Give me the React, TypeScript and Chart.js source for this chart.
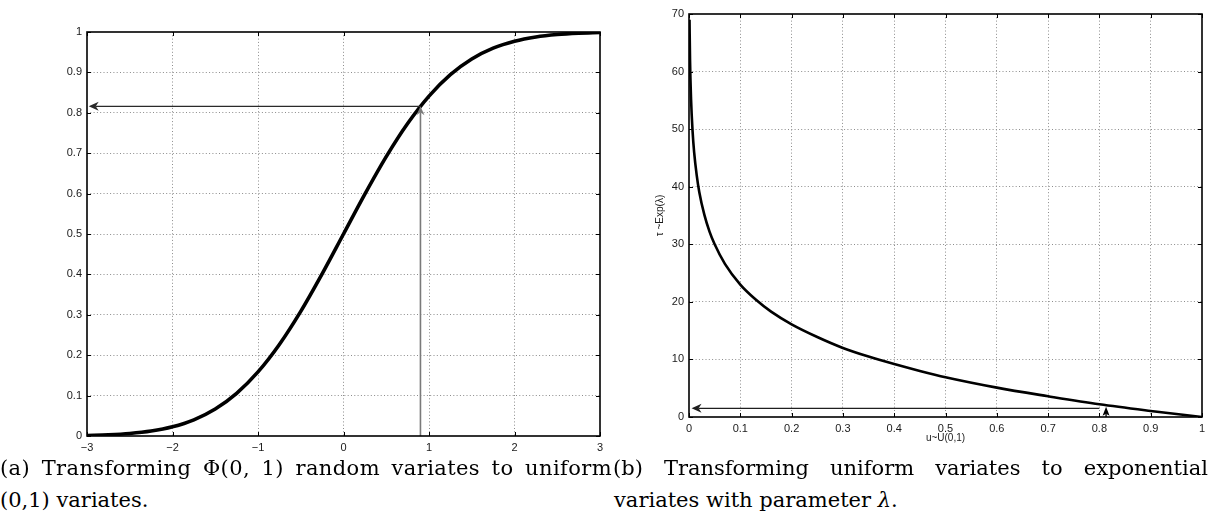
import React, { useEffect, useRef } from "react";
import { Chart, registerables } from "chart.js";
Chart.register(...registerables);

// ---------- Data: panel (a) standard normal CDF ----------
const A_X = [-3, -2.75, -2.5, -2.25, -2, -1.75, -1.5, -1.25, -1, -0.75, -0.5, -0.25, 0, 0.25, 0.5, 0.75, 1, 1.25, 1.5, 1.75, 2, 2.25, 2.5, 2.75, 3];
const A_Y = [0.0013, 0.003, 0.0062, 0.0122, 0.0228, 0.0401, 0.0668, 0.1056, 0.1587, 0.2266, 0.3085, 0.4013, 0.5, 0.5987, 0.6915, 0.7734, 0.8413, 0.8944, 0.9332, 0.9599, 0.9772, 0.9878, 0.9938, 0.997, 0.9987];
const A_XTICKS = [-3, -2, -1, 0, 1, 2, 3];
const A_XLABELS = ["\u22123", "\u22122", "\u22121", "0", "1", "2", "3"];
const A_YTICKS = [0, 0.1, 0.2, 0.3, 0.4, 0.5, 0.6, 0.7, 0.8, 0.9, 1];
const A_YLABELS = ["0", "0.1", "0.2", "0.3", "0.4", "0.5", "0.6", "0.7", "0.8", "0.9", "1"];
// arrows in data units: [x1, y1, x2, y2] (head at x2,y2)
const A_ARROW_H = [0.9, 0.816, -2.98, 0.816];
const A_ARROW_V = [0.9, 0, 0.9, 0.816];

// ---------- Data: panel (b) inverse exponential transform ----------
const B_U = [0.001, 0.002, 0.004, 0.007, 0.01, 0.015, 0.02, 0.03, 0.04, 0.05, 0.07, 0.1, 0.13, 0.16, 0.2, 0.25, 0.3, 0.35, 0.4, 0.45, 0.5, 0.6, 0.7, 0.8, 0.9, 1];
const B_TAU = [69, 62, 55.2, 49.6, 46, 42, 39.1, 35.1, 32.2, 30, 26.6, 23, 20.4, 18.3, 16.1, 13.9, 12, 10.5, 9.2, 8, 6.9, 5.1, 3.6, 2.2, 1.05, 0];
const B_XTICKS = [0, 0.1, 0.2, 0.3, 0.4, 0.5, 0.6, 0.7, 0.8, 0.9, 1];
const B_XLABELS = ["0", "0.1", "0.2", "0.3", "0.4", "0.5", "0.6", "0.7", "0.8", "0.9", "1"];
const B_YTICKS = [0, 10, 20, 30, 40, 50, 60, 70];
const B_YLABELS = ["0", "10", "20", "30", "40", "50", "60", "70"];
const B_XTITLE = "u~U(0,1)";
const B_YTITLE = "\u03c4 ~Exp(\u03bb)";
const B_ARROW_H = [0.8, 1.5, 0.005, 1.5];
const B_ARROW_V = [0.813, 0, 0.813, 1.8];

const CAP_A1 = "(a) Transforming \u03a6(0, 1) random variates to uniform";
const CAP_A2 = "(0,1) variates.";
const CAP_B1 = "(b) Transforming uniform variates to exponential";
const CAP_B2 = "variates with parameter ";

type ArrowStyle = { color: string; width: number; len: number; half: number; notch: number };

function drawArrow(ctx: CanvasRenderingContext2D, x1: number, y1: number, x2: number, y2: number, s: ArrowStyle) {
  const ang = Math.atan2(y2 - y1, x2 - x1);
  const bx = x2 - Math.cos(ang) * (s.len - s.notch);
  const by = y2 - Math.sin(ang) * (s.len - s.notch);
  ctx.save();
  ctx.strokeStyle = s.color;
  ctx.lineWidth = s.width;
  ctx.beginPath();
  ctx.moveTo(x1, y1);
  ctx.lineTo(bx, by);
  ctx.stroke();
  ctx.translate(x2, y2);
  ctx.rotate(ang);
  ctx.beginPath();
  ctx.moveTo(0, 0);
  ctx.lineTo(-s.len, -s.half);
  ctx.lineTo(-s.len + s.notch, 0);
  ctx.lineTo(-s.len, s.half);
  ctx.closePath();
  ctx.fillStyle = s.color;
  ctx.fill();
  ctx.restore();
}

function makeBoxPlugin(xTicks: number[], yTicks: number[], arrows: { a: number[]; s: ArrowStyle }[]) {
  return {
    id: "matlabBox",
    afterDatasetsDraw(chart: any) {
      const { ctx, chartArea: ca, scales } = chart;
      const xs = scales.x, ys = scales.y;
      ctx.save();
      ctx.strokeStyle = "#000";
      ctx.lineWidth = 1;
      const tl = 4;
      ctx.beginPath();
      xTicks.forEach((v) => {
        const px = Math.round(xs.getPixelForValue(v)) + 0.5;
        ctx.moveTo(px, ca.bottom);
        ctx.lineTo(px, ca.bottom - tl);
        ctx.moveTo(px, ca.top);
        ctx.lineTo(px, ca.top + tl);
      });
      yTicks.forEach((v) => {
        const py = Math.round(ys.getPixelForValue(v)) + 0.5;
        ctx.moveTo(ca.left, py);
        ctx.lineTo(ca.left + tl, py);
        ctx.moveTo(ca.right, py);
        ctx.lineTo(ca.right - tl, py);
      });
      ctx.stroke();
      arrows.forEach(({ a, s }) => {
        drawArrow(ctx, xs.getPixelForValue(a[0]), ys.getPixelForValue(a[1]), xs.getPixelForValue(a[2]), ys.getPixelForValue(a[3]), s);
      });
      ctx.strokeStyle = "#000";
      ctx.lineWidth = 1.6;
      ctx.strokeRect(ca.left, ca.top, ca.right - ca.left, ca.bottom - ca.top);
      ctx.restore();
    },
  };
}

const tickFont = { family: "'Liberation Sans', Roboto, Arial, sans-serif", size: 11 };

function axis(min: number, max: number, ticks: number[], labels: string[], fit: (s: any) => void, extra: any = {}) {
  return {
    type: "linear",
    min,
    max,
    afterBuildTicks: (s: any) => {
      s.ticks = ticks.map((v) => ({ value: v }));
    },
    afterFit: fit,
    grid: {
      drawTicks: false,
      lineWidth: 1,
      color: (c: any) => (c.tick && (c.tick.value === min || c.tick.value === max) ? "rgba(0,0,0,0)" : "#8c8c8c"),
    },
    border: { display: false, dash: [1, 2.3] },
    ticks: {
      autoSkip: false,
      maxRotation: 0,
      padding: 5,
      color: "#1a1a1a",
      font: tickFont,
      callback: (_v: any, i: number) => labels[i],
    },
    ...extra,
  };
}

function ChartA() {
  const ref = useRef<HTMLCanvasElement>(null);
  useEffect(() => {
    const plugin = makeBoxPlugin(A_XTICKS, A_YTICKS, [
      { a: A_ARROW_V, s: { color: "#7a7a7a", width: 1.6, len: 9, half: 4, notch: 3 } },
      { a: A_ARROW_H, s: { color: "#2a2a2a", width: 1.3, len: 10, half: 4.5, notch: 3 } },
    ]);
    const chart = new Chart(ref.current!, {
      type: "line",
      data: {
        datasets: [
          {
            data: A_X.map((x, i) => ({ x, y: A_Y[i] })),
            borderColor: "#000",
            borderWidth: 3.6,
            pointRadius: 0,
            cubicInterpolationMode: "monotone",
            fill: false,
          },
        ],
      },
      options: {
        animation: false,
        responsive: false,
        layout: { padding: { top: 32, right: 20, left: 0, bottom: 0 } },
        plugins: { legend: { display: false }, tooltip: { enabled: false } },
        scales: {
          x: axis(-3, 3, A_XTICKS, A_XLABELS, (s: any) => { s.height = 24; }),
          y: axis(0, 1, A_YTICKS, A_YLABELS, (s: any) => { s.width = 87; }),
        },
      } as any,
      plugins: [plugin],
    } as any);
    return () => chart.destroy();
  }, []);
  return <canvas ref={ref} width={620} height={460} style={{ position: "absolute", left: 0, top: 0, width: 620, height: 460 }} />;
}

function ChartB() {
  const ref = useRef<HTMLCanvasElement>(null);
  useEffect(() => {
    const plugin = makeBoxPlugin(B_XTICKS, B_YTICKS, [
      { a: B_ARROW_H, s: { color: "#1e1e1e", width: 1.3, len: 10, half: 4.5, notch: 3 } },
      { a: B_ARROW_V, s: { color: "#000", width: 1.3, len: 9, half: 3.5, notch: 2 } },
    ]);
    const chart = new Chart(ref.current!, {
      type: "line",
      data: {
        datasets: [
          {
            data: B_U.map((x, i) => ({ x, y: B_TAU[i] })),
            borderColor: "#000",
            borderWidth: 2.6,
            pointRadius: 0,
            cubicInterpolationMode: "monotone",
            fill: false,
          },
        ],
      },
      options: {
        animation: false,
        responsive: false,
        layout: { padding: { top: 14, right: 9, left: 0, bottom: 0 } },
        plugins: { legend: { display: false }, tooltip: { enabled: false } },
        scales: {
          x: axis(0, 1, B_XTICKS, B_XLABELS, (s: any) => { s.height = 33; }, {
            title: { display: true, text: B_XTITLE, color: "#1a1a1a", font: { family: tickFont.family, size: 10 }, padding: { top: 0, bottom: 6 } },
          }),
          y: axis(0, 70, B_YTICKS, B_YLABELS, (s: any) => { s.width = 69; }, {
            title: { display: true, text: B_YTITLE, color: "#1a1a1a", font: { family: tickFont.family, size: 10 }, padding: { top: 34, bottom: 0 } },
          }),
        },
      } as any,
      plugins: [plugin],
    } as any);
    return () => chart.destroy();
  }, []);
  return <canvas ref={ref} width={591} height={450} style={{ position: "absolute", left: 620, top: 0, width: 591, height: 450 }} />;
}

const capStyle: React.CSSProperties = {
  position: "absolute",
  fontFamily: "'DejaVu Serif', serif",
  fontSize: 21,
  lineHeight: "24px",
  color: "#000",
  whiteSpace: "nowrap",
};

export default function App() {
  return (
    <div style={{ position: "absolute", left: 0, top: 0, width: 1211, height: 521, overflow: "hidden", background: "#fff" }}>
      <ChartA />
      <ChartB />
      <div style={{ ...capStyle, left: 0, top: 456, width: 612, letterSpacing: "0.4px", textAlign: "justify", textAlignLast: "justify" } as any}>{CAP_A1}</div>
      <div style={{ ...capStyle, left: 0, top: 488 }}>{CAP_A2}</div>
      <div style={{ ...capStyle, left: 613, top: 456, width: 595, textAlign: "justify", textAlignLast: "justify" } as any}>{CAP_B1}</div>
      <div style={{ ...capStyle, left: 614, top: 488 }}>
        {CAP_B2}
        <i>{"\u03bb"}</i>.
      </div>
    </div>
  );
}
